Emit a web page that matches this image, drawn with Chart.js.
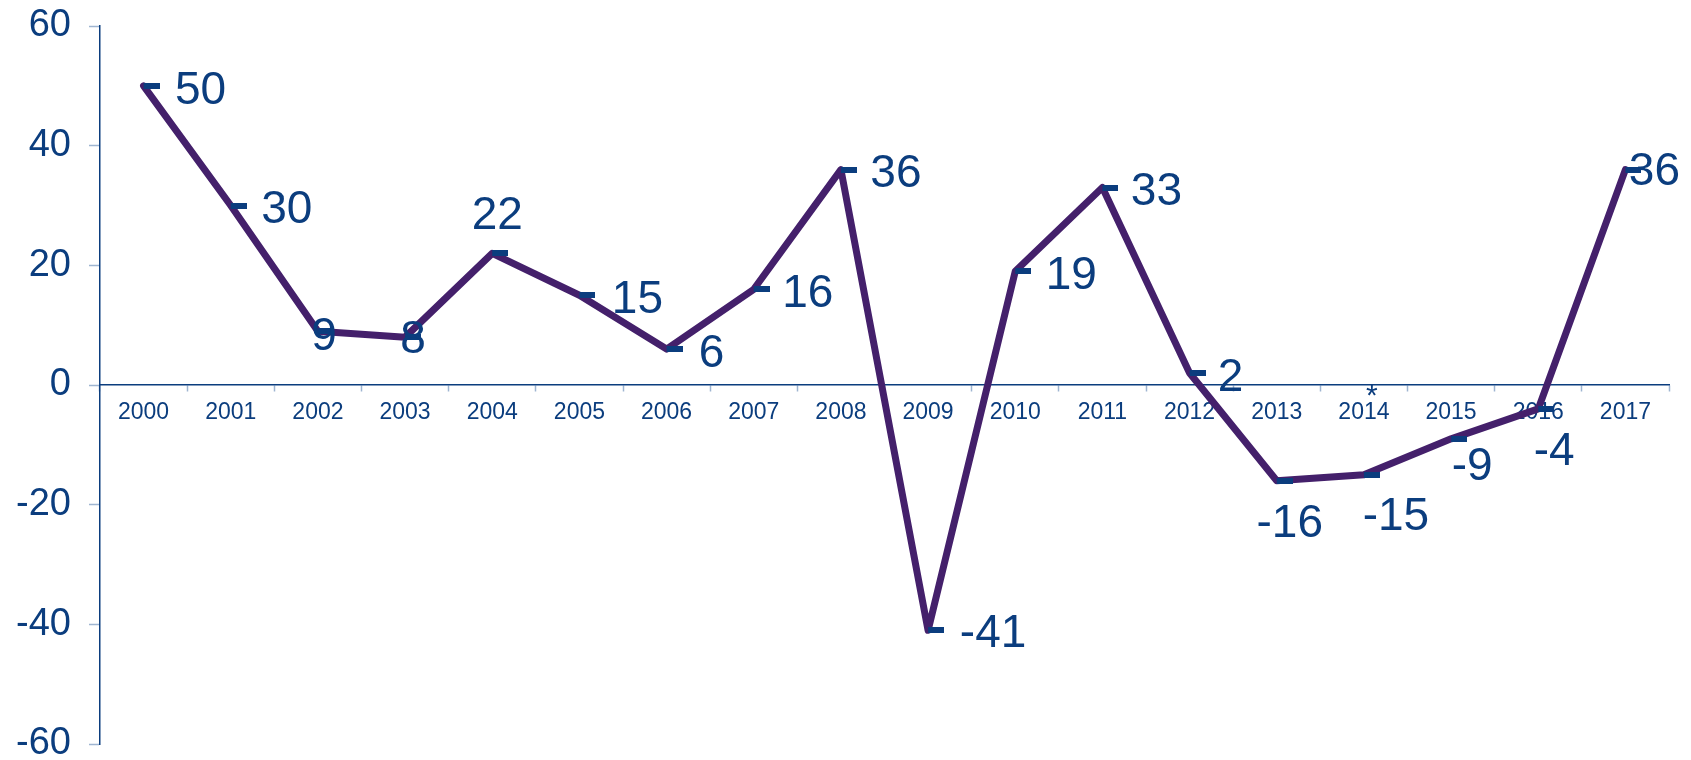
<!DOCTYPE html>
<html>
<head>
<meta charset="utf-8">
<script src="https://cdn.jsdelivr.net/npm/chart.js@4.4.1/dist/chart.umd.min.js"></script>
<style>
html,body{margin:0;padding:0;background:#fff;}
canvas{display:block;}
</style>
</head>
<body>
<canvas id="chart" width="1691" height="760"></canvas>
<script>
// data
const years = ['2000','2001','2002','2003','2004','2005','2006','2007','2008',
  '2009','2010','2011','2012','2013','2014','2015','2016','2017'];
const values = [50, 30, 9, 8, 22, 15, 6, 16, 36, -41, 19, 33, 2, -16, -15, -9, -4, 36];
const yTickValues = [-60, -40, -20, 0, 20, 40, 60];
const footnoteMark = '*';
const footnoteYear = '2014';

const BLUE = '#0b3d7e';
const PURPLE = '#44206b';
const TICK = '#9fb5d1';
const FONT = '"Liberation Sans", Arial, sans-serif';

// where each value label sits, relative to its point (text centre)
const labelShift = [[57,5],[56,5],[6,6],[8,3],[5,-37],[58,5],[45,5],[54,5],[55,5],
  [65,4],[56,5],[54,5],[41,5],[13,44],[32,43],[21,28],[16,43],[29,3]];

// dash marker: starts at the point, runs to the right
function makeDash(){
  const c=document.createElement('canvas');
  c.width=32;c.height=6;
  const g=c.getContext('2d');
  g.fillStyle=BLUE;
  g.fillRect(16,0,16,6);
  return c;
}

const valueLabels={
  id:'valueLabels',
  afterDatasetsDraw(chart){
    const ctx=chart.ctx;
    const meta=chart.getDatasetMeta(0);
    ctx.save();
    ctx.fillStyle=BLUE;
    ctx.textAlign='center';
    ctx.textBaseline='middle';
    ctx.font='46px '+FONT;
    meta.data.forEach((pt,i)=>{
      const s=labelShift[i];
      ctx.fillText(String(values[i]),pt.x+s[0],pt.y+s[1]);
    });
    // footnote mark above the 2014 label
    const fx=chart.scales.x.getPixelForValue(years.indexOf(footnoteYear));
    const fy=chart.scales.y.getPixelForValue(0);
    ctx.textBaseline='alphabetic';
    ctx.font='30px '+FONT;
    ctx.fillText(footnoteMark,fx+8,fy+20);
    ctx.restore();
  }
};

new Chart(document.getElementById('chart'),{
  type:'line',
  data:{
    labels:years,
    datasets:[{
      data:values,
      borderColor:PURPLE,
      borderWidth:7,
      borderJoinStyle:'round',
      borderCapStyle:'round',
      tension:0,
      fill:false,
      pointStyle:makeDash(),
      pointRadius:3,
      pointHoverRadius:3,
      clip:false
    }]
  },
  options:{
    responsive:false,
    animation:false,
    events:[],
    layout:{padding:{top:26,bottom:16,right:22,left:0}},
    plugins:{legend:{display:false},tooltip:{enabled:false}},
    scales:{
      x:{
        type:'category',
        position:{y:0},
        offset:true,
        grid:{offset:true,drawOnChartArea:false,drawTicks:true,tickLength:6,tickColor:TICK,tickWidth:1.5},
        border:{color:BLUE,width:1.5},
        ticks:{color:BLUE,font:{family:FONT,size:23},padding:8,maxRotation:0,autoSkip:false},
        afterFit(s){s.paddingLeft=0;s.paddingRight=0;}
      },
      y:{
        min:-60,max:60,
        afterBuildTicks(s){s.ticks=yTickValues.map(v=>({value:v}));},
        grid:{drawOnChartArea:false,drawTicks:true,tickLength:11,tickColor:TICK,tickWidth:1.5},
        border:{color:BLUE,width:1.5},
        ticks:{color:BLUE,font:{family:FONT,size:38},padding:18},
        afterFit(s){s.width=100;s.paddingTop=0;s.paddingBottom=0;}
      }
    }
  },
  plugins:[valueLabels]
});
</script>
</body>
</html>
